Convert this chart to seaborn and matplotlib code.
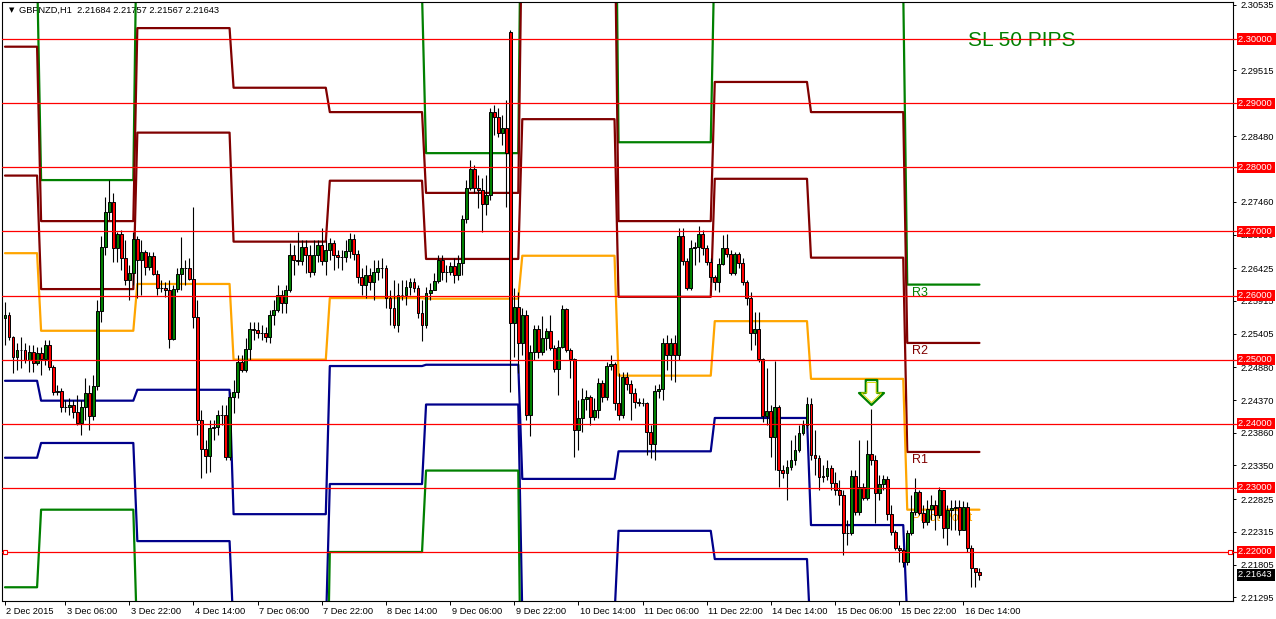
import numpy as np
import pandas as pd
import matplotlib
matplotlib.use("Agg")
import matplotlib.pyplot as plt
import seaborn as sns
from matplotlib import transforms
from matplotlib.path import Path

# ---------------- data ----------------
symbol = "GBPNZD,H1"
first_open = 2.2565
open_gaps = {126: 2.3011}

closes = [
    2.2570, 2.2535, 2.2504, 2.2515, 2.2515, 2.2500, 2.2512, 2.2495, 2.2510, 2.2501,
    2.2523, 2.2489, 2.2450, 2.2451, 2.2426, 2.2426, 2.2429, 2.2418, 2.2401, 2.2426,
    2.2448, 2.2412, 2.2459, 2.2576, 2.2676, 2.2730, 2.2746, 2.2674, 2.2696, 2.2659,
    2.2624, 2.2635, 2.2688, 2.2656, 2.2668, 2.2645, 2.2662, 2.2634, 2.2612, 2.2612,
    2.2609, 2.2532, 2.2610, 2.2634, 2.2643, 2.2643, 2.2626, 2.2567, 2.2406, 2.2361,
    2.2350, 2.2393, 2.2395, 2.2414, 2.2414, 2.2348, 2.2442, 2.2450, 2.2496, 2.2484,
    2.2517, 2.2548, 2.2546, 2.2542, 2.2542, 2.2535, 2.2570, 2.2578, 2.2601, 2.2588,
    2.2609, 2.2663, 2.2656, 2.2654, 2.2676, 2.2663, 2.2637, 2.2663, 2.2679, 2.2654,
    2.2671, 2.2682, 2.2663, 2.2660, 2.2660, 2.2670, 2.2688, 2.2665, 2.2629, 2.2617,
    2.2632, 2.2621, 2.2637, 2.2643, 2.2643, 2.2596, 2.2581, 2.2554, 2.2601, 2.2601,
    2.2613, 2.2621, 2.2612, 2.2573, 2.2554, 2.2604, 2.2609, 2.2623, 2.2656, 2.2637,
    2.2637, 2.2646, 2.2632, 2.2651, 2.2720, 2.2768, 2.2797, 2.2768, 2.2765, 2.2743,
    2.2757, 2.2886, 2.2879, 2.2854, 2.2861, 2.2822, 2.2557, 2.2582, 2.2526, 2.2570,
    2.2414, 2.2512, 2.2548, 2.2512, 2.2534, 2.2545, 2.2518, 2.2485, 2.2520, 2.2579,
    2.2515, 2.2501, 2.2390, 2.2409, 2.2439, 2.2442, 2.2411, 2.2422, 2.2464, 2.2442,
    2.2490, 2.2493, 2.2432, 2.2414, 2.2473, 2.2462, 2.2448, 2.2434, 2.2432, 2.2432,
    2.2387, 2.2368, 2.2451, 2.2454, 2.2526, 2.2507, 2.2526, 2.2507, 2.2693, 2.2654,
    2.2612, 2.2674, 2.2676, 2.2696, 2.2674, 2.2652, 2.2629, 2.2621, 2.2649, 2.2674,
    2.2665, 2.2635, 2.2665, 2.2651, 2.2621, 2.2596, 2.2542, 2.2548, 2.2501, 2.2412,
    2.2420, 2.2379, 2.2426, 2.2328, 2.2323, 2.2333, 2.2344, 2.2359, 2.2386, 2.2398,
    2.2431, 2.2351, 2.2347, 2.2317, 2.2319, 2.2331, 2.2308, 2.2297, 2.2289, 2.2230,
    2.2230, 2.2319, 2.2262, 2.2301, 2.2284, 2.2353, 2.2344, 2.2292, 2.2306, 2.2314,
    2.2259, 2.2231, 2.2206, 2.2203, 2.2184, 2.2230, 2.2262, 2.2294, 2.2261, 2.2247,
    2.2267, 2.2273, 2.2258, 2.2297, 2.2237, 2.2266, 2.2269, 2.2270, 2.2234, 2.2270,
    2.2206, 2.2175, 2.21684, 2.21643,
]
highs = [
    2.2590, 2.2574, 2.2537, 2.2526, 2.2535, 2.2526, 2.2523, 2.2523, 2.2520, 2.2520,
    2.2531, 2.2531, 2.2492, 2.2461, 2.2456, 2.2437, 2.2440, 2.2437, 2.2445, 2.2437,
    2.2471, 2.2461, 2.2476, 2.2593, 2.2693, 2.2754, 2.2780, 2.2760, 2.2699, 2.2702,
    2.2687, 2.2648, 2.2699, 2.2693, 2.2687, 2.2671, 2.2668, 2.2668, 2.2640, 2.2624,
    2.2621, 2.2624, 2.2617, 2.2643, 2.2691, 2.2656, 2.2659, 2.2738, 2.2593, 2.2422,
    2.2375, 2.2406, 2.2406, 2.2422, 2.2429, 2.2429, 2.2450, 2.2468, 2.2507, 2.2507,
    2.2534, 2.2559, 2.2559, 2.2559, 2.2554, 2.2551, 2.2578, 2.2593, 2.2617, 2.2609,
    2.2617, 2.2682, 2.2679, 2.2699, 2.2687, 2.2687, 2.2679, 2.2687, 2.2687, 2.2705,
    2.2687, 2.2690, 2.2687, 2.2671, 2.2671, 2.2687, 2.2698, 2.2696, 2.2671, 2.2643,
    2.2648, 2.2643, 2.2656, 2.2656, 2.2659, 2.2648, 2.2609, 2.2624, 2.2620, 2.2624,
    2.2624, 2.2627, 2.2627, 2.2617, 2.2593, 2.2613, 2.2620, 2.2635, 2.2663, 2.2663,
    2.2648, 2.2652, 2.2659, 2.2663, 2.2726, 2.2780, 2.2812, 2.2804, 2.2788, 2.2783,
    2.2788, 2.2893, 2.2897, 2.2893, 2.2882, 2.2905, 2.3014, 2.2612, 2.2606, 2.2581,
    2.2578, 2.2523, 2.2554, 2.2554, 2.2568, 2.2549, 2.2570, 2.2523, 2.2531, 2.2585,
    2.2581, 2.2518, 2.2503, 2.2437, 2.2456, 2.2453, 2.2445, 2.2440, 2.2471, 2.2468,
    2.2496, 2.2507, 2.2496, 2.2479, 2.2481, 2.2481, 2.2468, 2.2456, 2.2440, 2.2440,
    2.2434, 2.2398, 2.2461, 2.2462, 2.2534, 2.2539, 2.2534, 2.2539, 2.2705, 2.2705,
    2.2659, 2.2687, 2.2684, 2.2709, 2.2702, 2.2679, 2.2659, 2.2632, 2.2659, 2.2695,
    2.2696, 2.2671, 2.2668, 2.2668, 2.2659, 2.2624, 2.2606, 2.2574, 2.2574, 2.2503,
    2.2487, 2.2429, 2.2498, 2.2429, 2.2336, 2.2344, 2.2375, 2.2383, 2.2398, 2.2406,
    2.2442, 2.2440, 2.2390, 2.2351, 2.2336, 2.2344, 2.2336, 2.2325, 2.2312, 2.2297,
    2.2250, 2.2328, 2.2328, 2.2375, 2.2308, 2.2375, 2.2423, 2.2351, 2.2320, 2.2320,
    2.2319, 2.2273, 2.2234, 2.2211, 2.2206, 2.2234, 2.2289, 2.2315, 2.2297, 2.2273,
    2.2281, 2.2289, 2.2281, 2.2301, 2.2297, 2.2273, 2.2281, 2.2281, 2.2281, 2.2280,
    2.2278, 2.2211, 2.2175, 2.21757,
]
lows = [
    2.2523, 2.2531, 2.2479, 2.2484, 2.2487, 2.2495, 2.2481, 2.2481, 2.2492, 2.2476,
    2.2492, 2.2484, 2.2445, 2.2445, 2.2418, 2.2418, 2.2414, 2.2409, 2.2398, 2.2383,
    2.2406, 2.2390, 2.2406, 2.2453, 2.2559, 2.2663, 2.2718, 2.2652, 2.2652, 2.2640,
    2.2617, 2.2593, 2.2617, 2.2596, 2.2601, 2.2632, 2.2640, 2.2632, 2.2601, 2.2606,
    2.2598, 2.2518, 2.2531, 2.2606, 2.2609, 2.2617, 2.2624, 2.2549, 2.2383, 2.2315,
    2.2323, 2.2325, 2.2375, 2.2383, 2.2398, 2.2344, 2.2344, 2.2417, 2.2440, 2.2481,
    2.2481, 2.2500, 2.2531, 2.2534, 2.2531, 2.2528, 2.2526, 2.2554, 2.2574, 2.2573,
    2.2573, 2.2606, 2.2632, 2.2648, 2.2648, 2.2635, 2.2629, 2.2632, 2.2652, 2.2648,
    2.2632, 2.2656, 2.2640, 2.2643, 2.2640, 2.2652, 2.2659, 2.2656, 2.2620, 2.2601,
    2.2596, 2.2609, 2.2593, 2.2624, 2.2627, 2.2581, 2.2554, 2.2549, 2.2543, 2.2593,
    2.2585, 2.2601, 2.2606, 2.2565, 2.2529, 2.2549, 2.2593, 2.2609, 2.2620, 2.2624,
    2.2621, 2.2632, 2.2620, 2.2624, 2.2632, 2.2713, 2.2765, 2.2760, 2.2737, 2.2699,
    2.2726, 2.2749, 2.2850, 2.2847, 2.2835, 2.2738, 2.2450, 2.2504, 2.2479, 2.2507,
    2.2406, 2.2381, 2.2500, 2.2503, 2.2507, 2.2515, 2.2515, 2.2481, 2.2445, 2.2518,
    2.2512, 2.2471, 2.2348, 2.2359, 2.2387, 2.2422, 2.2398, 2.2406, 2.2409, 2.2434,
    2.2437, 2.2484, 2.2422, 2.2406, 2.2409, 2.2453, 2.2406, 2.2425, 2.2428, 2.2428,
    2.2351, 2.2347, 2.2344, 2.2440, 2.2437, 2.2484, 2.2468, 2.2465, 2.2500, 2.2648,
    2.2609, 2.2609, 2.2648, 2.2652, 2.2663, 2.2648, 2.2621, 2.2609, 2.2606, 2.2648,
    2.2660, 2.2632, 2.2632, 2.2643, 2.2617, 2.2585, 2.2515, 2.2523, 2.2496, 2.2403,
    2.2398, 2.2348, 2.2328, 2.2301, 2.2315, 2.2281, 2.2328, 2.2336, 2.2356, 2.2383,
    2.2393, 2.2344, 2.2320, 2.2297, 2.2309, 2.2312, 2.2297, 2.2289, 2.2273, 2.2195,
    2.2211, 2.2227, 2.2258, 2.2258, 2.2281, 2.2281, 2.2336, 2.2245, 2.2281, 2.2297,
    2.2250, 2.2227, 2.2203, 2.2184, 2.2177, 2.2180, 2.2227, 2.2258, 2.2258, 2.2237,
    2.2242, 2.2250, 2.2234, 2.2253, 2.2222, 2.2211, 2.2234, 2.2234, 2.2227, 2.2234,
    2.2200, 2.2145, 2.2145, 2.21567,
]
last_open = 2.21684

# daily pivot levels (first bar of each day and its levels)
day_start = [0, 9, 33, 57, 81, 105, 129, 153, 177, 201, 225]
R3 = [2.3107, 2.2780, 2.3255, 2.3108, 2.3069, 2.2822, 2.3436, 2.2839, 2.3155, 2.3075, 2.2617]
R2 = [2.2988, 2.2716, 2.3017, 2.2924, 2.2886, 2.2760, 2.3223, 2.2716, 2.2933, 2.2886, 2.2526]
R1 = [2.2787, 2.2610, 2.2854, 2.2684, 2.2779, 2.2657, 2.2875, 2.2598, 2.2782, 2.2659, 2.2356]
PP = [2.2666, 2.2545, 2.2618, 2.2500, 2.2596, 2.2595, 2.2662, 2.2475, 2.2560, 2.2470, 2.2266]
S1 = [2.2467, 2.2436, 2.2453, 2.2259, 2.2490, 2.2492, 2.2314, 2.2357, 2.2409, 2.2242, 2.2096]
S2 = [2.2347, 2.2370, 2.2217, 2.2076, 2.2306, 2.2430, 2.2101, 2.2233, 2.2189, 2.2054, 2.2006]
S3 = [2.2145, 2.2266, 2.2052, 2.1835, 2.2200, 2.2327, 2.1753, 2.2116, 2.2036, 2.1831, 2.1836]

round_levels = [2.30, 2.29, 2.28, 2.27, 2.26, 2.25, 2.24, 2.23, 2.22]
ytick_vals = [2.30535, 2.29515, 2.28480, 2.27460, 2.26950, 2.26425, 2.25915, 2.25405,
              2.24880, 2.24370, 2.23860, 2.23350, 2.22825, 2.22315, 2.21805, 2.21295]
xtick_bars = [0, 15, 31, 47, 63, 79, 95, 111, 127, 143, 159, 175, 191, 207, 223, 239]
xtick_labels = ["2 Dec 2015", "3 Dec 06:00", "3 Dec 22:00", "4 Dec 14:00", "7 Dec 06:00",
                "7 Dec 22:00", "8 Dec 14:00", "9 Dec 06:00", "9 Dec 22:00", "10 Dec 14:00",
                "11 Dec 06:00", "11 Dec 22:00", "14 Dec 14:00", "15 Dec 06:00",
                "15 Dec 22:00", "16 Dec 14:00"]
signal_bar = [216]
signal_price = [2.2449]
sl_text = "SL 50 PIPS"

# ---------------- style ----------------
sns.set_style("white")
plt.rcParams['font.family'] = ['Liberation Sans', 'DejaVu Sans']

W, H = 1276, 619
fig = plt.figure(figsize=(W / 100, H / 100), dpi=100)
ax_left, ax_right, ax_top, ax_bot = 2.5, 1233.0, 2.0, 601.0
ax = fig.add_axes([ax_left / W, (H - ax_bot) / H, (ax_right - ax_left) / W, (ax_bot - ax_top) / H])
ax_w = ax_right - ax_left

closes = np.array(closes)
highs = np.array(highs)
lows = np.array(lows)
n = len(closes)
bars = np.arange(n)
opens = np.r_[first_open, closes[:-1]]
for b, o in open_gaps.items():
    opens[b] = o
highs = np.maximum(highs, np.maximum(opens, closes))
lows = np.minimum(lows, np.minimum(opens, closes))

# pivot lines
day_len = np.diff(day_start + [n])
levels = {'R3': R3, 'R2': R2, 'R1': R1, 'P': PP, 'S1': S1, 'S2': S2, 'S3': S3}
palette = {'R3': '#008000', 'R2': '#800000', 'R1': '#800000', 'P': '#FFA500',
           'S1': '#00008B', 'S2': '#00008B', 'S3': '#008000'}
frames = [pd.DataFrame({'bar': bars, 'price': np.repeat(v, day_len), 'level': k})
          for k, v in levels.items()]
df_lv = pd.concat(frames, ignore_index=True)
sns.lineplot(data=df_lv, x='bar', y='price', hue='level', palette=palette,
             estimator=None, sort=False, legend=False, linewidth=1.6, ax=ax, zorder=2)

# candles
up = closes >= opens
ax.vlines(bars, lows, highs, color='black', lw=0.8, zorder=3)
ax.bar(bars, np.abs(closes - opens), bottom=np.minimum(opens, closes), width=0.72,
       color=np.where(up, '#008000', '#FF0000'), edgecolor='black', linewidth=0.7, zorder=4)

# round-number horizontal lines
box_tr = transforms.blended_transform_factory(ax.transAxes, ax.transData)
for lv in round_levels:
    ax.axhline(lv, 0, 1.0 + 3 / ax_w, color='#FF0000', lw=0.9, zorder=5, clip_on=False)
ax.plot([2.5 / ax_w, 1 - 3 / ax_w], [2.22, 2.22], ls='none', marker='s', ms=3.2,
        mfc='white', mec='#FF0000', mew=0.8, transform=box_tr, clip_on=False, zorder=11)

# axes limits and frame
ax.set_xlim((ax_left - 5) / 4.01, (ax_right - 5) / 4.01)
ax.set_ylim(2.22 - (ax_bot - 552) / 6412.5, 2.30 + (39 - ax_top) / 6412.5)
for s in ax.spines.values():
    s.set_visible(True)
    s.set_color('black')
    s.set_linewidth(0.8)
ax.set_xlabel('')
ax.set_ylabel('')

ax.yaxis.tick_right()
ax.set_yticks(ytick_vals)
ax.set_yticklabels([f"{v:.5f}" for v in ytick_vals])
ax.tick_params(axis='y', which='both', right=True, left=False, direction='out',
               length=2.5, width=0.7, pad=3, labelsize=6.7, colors='black')
ax.set_xticks(xtick_bars)
ax.set_xticklabels(xtick_labels, ha='left')
ax.tick_params(axis='x', bottom=True, direction='out', length=3, width=0.7, pad=1.5,
               labelsize=6.7, colors='black')
offset = transforms.ScaledTranslation(1.5 / 100, 0, fig.dpi_scale_trans)
for lbl in ax.get_xticklabels():
    lbl.set_transform(lbl.get_transform() + offset)

# price boxes on the right scale
xbox = 1.0 + 5 / ax_w
for lv in round_levels:
    ax.text(xbox, lv, f"{lv:.5f} ", transform=box_tr, ha='left', va='center', fontsize=6.7,
            color='white', bbox=dict(boxstyle='square,pad=0.12', fc='#FF0000', ec='#FF0000', lw=0),
            zorder=10, clip_on=False)
ax.text(xbox, closes[-1], f"{closes[-1]:.5f} ", transform=box_tr, ha='left', va='center',
        fontsize=6.7, color='white',
        bbox=dict(boxstyle='square,pad=0.12', fc='black', ec='black', lw=0), zorder=10, clip_on=False)

# level labels on the last day
last_day = day_start[-1] + 1
label_spec = [('R3', R3[-1], '#008000'), ('R2', R2[-1], '#800000'),
              ('R1', R1[-1], '#800000'), ('Pivot Point', PP[-1], '#FFA500')]
for txt, lv, col in label_spec:
    ax.annotate(txt, xy=(last_day, lv), xytext=(0.5, -1.5), textcoords='offset points',
                ha='left', va='top', fontsize=9, color=col, zorder=1)

# sell arrow
arrow = Path([(-0.46, 1.0), (0.46, 1.0), (0.46, -0.04), (1.0, -0.04), (0.0, -1.0),
              (-1.0, -0.04), (-0.46, -0.04), (-0.46, 1.0)], closed=True)
ax.plot(signal_bar, signal_price, ls='none', marker=arrow, ms=18, mfc='white',
        mec='#008000', mew=1.6, zorder=8)
ax.plot(signal_bar, signal_price, ls='none', marker=arrow, ms=14.5, mfc='none',
        mec='#D8D800', mew=0.7, zorder=9)

# header texts
ax.text(6 / ax_w, 1 - 8.5 / (ax_bot - ax_top), "\u25BC", transform=ax.transAxes, fontsize=5,
        ha='left', va='center', color='black', family=['DejaVu Sans'], zorder=1)
ax.text(16.5 / ax_w, 1 - 8.5 / (ax_bot - ax_top),
        f"{symbol}  {last_open:.5f} {highs[-1]:.5f} {lows[-1]:.5f} {closes[-1]:.5f}",
        transform=ax.transAxes, fontsize=6.7, ha='left', va='center', color='black', zorder=1)
ax.text((968 - ax_left) / ax_w, (ax_bot - 41) / (ax_bot - ax_top), sl_text,
        transform=ax.transAxes, fontsize=15, ha='left', va='center', color='#008000', zorder=1)

fig.savefig("out.png", dpi=100)
